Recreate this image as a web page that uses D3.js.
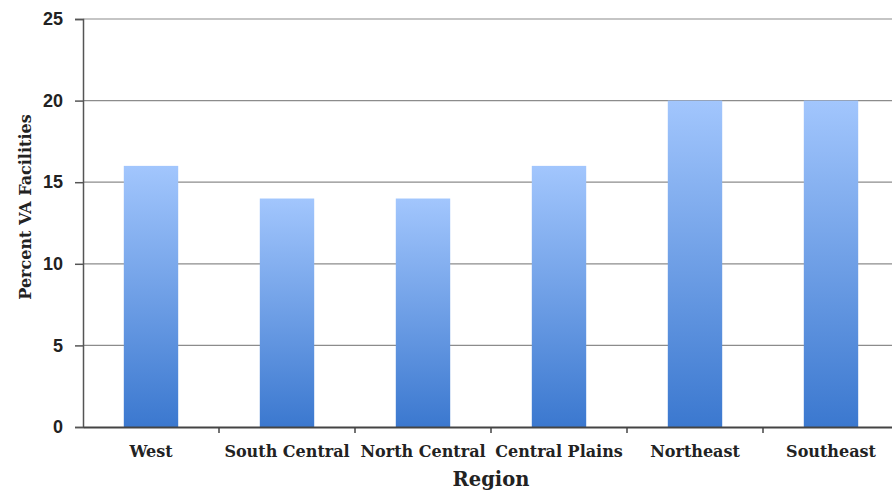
<!DOCTYPE html>
<html>
<head>
<meta charset="utf-8">
<script src="https://cdn.jsdelivr.net/npm/d3@7"></script>
<style>
  body { margin: 0; background: #fff; }
  svg { display: block; }
</style>
</head>
<body>
<div id="chart"></div>
<script>
// data
const regions = ["West", "South Central", "North Central", "Central Plains", "Northeast", "Southeast"];
const percents = [16, 14, 14, 16, 20, 20];
const yTicks = [0, 5, 10, 15, 20, 25];

const width = 892, height = 493;
const margin = { top: 19, right: -7, bottom: 66, left: 83 };

const svg = d3.select("#chart").append("svg")
  .attr("width", width)
  .attr("height", height);

// gradient for the bars, light on top, dark at the base
const grad = svg.append("defs").append("linearGradient")
  .attr("id", "barGrad")
  .attr("x1", 0).attr("y1", 0).attr("x2", 0).attr("y2", 1);
grad.append("stop").attr("offset", "0%").attr("stop-color", "#a2c6fd");
grad.append("stop").attr("offset", "100%").attr("stop-color", "#3b78cf");

const x = d3.scaleBand()
  .domain(regions)
  .range([margin.left, width - margin.right])
  .padding(0);

const y = d3.scaleLinear()
  .domain([0, 25])
  .range([height - margin.bottom, margin.top]);

// gridlines
svg.append("g")
  .selectAll("line")
  .data(yTicks.filter(d => d > 0))
  .join("line")
  .attr("x1", margin.left)
  .attr("x2", width)
  .attr("y1", d => y(d))
  .attr("y2", d => y(d))
  .attr("stroke", "#8c8c8c")
  .attr("stroke-width", 1.2);

// bars
const bw = x.bandwidth() * 0.4;
svg.append("g")
  .selectAll("rect")
  .data(regions.map((r, i) => ({ region: r, value: percents[i] })))
  .join("rect")
  .attr("x", d => x(d.region) + (x.bandwidth() - bw) / 2)
  .attr("y", d => y(d.value))
  .attr("width", bw)
  .attr("height", d => y(0) - y(d.value))
  .attr("fill", "url(#barGrad)");

// y axis
const yAxis = svg.append("g")
  .attr("transform", `translate(${margin.left},0)`)
  .call(d3.axisLeft(y).tickValues(yTicks).tickSize(8).tickPadding(12));
yAxis.select(".domain").attr("stroke", "#555").attr("stroke-width", 1.5);
yAxis.selectAll(".tick line").attr("stroke", "#555").attr("stroke-width", 1.5);
yAxis.selectAll("text")
  .attr("font-family", "Liberation Sans, Arial, sans-serif")
  .attr("font-weight", "bold")
  .attr("font-size", 18)
  .attr("fill", "#222");

// x axis
const xAxis = svg.append("g")
  .attr("transform", `translate(0,${y(0)})`)
  .call(d3.axisBottom(x).tickSize(0).tickPadding(19));
xAxis.select(".domain").attr("stroke", "#444").attr("stroke-width", 2);
xAxis.selectAll("text")
  .attr("font-family", "DejaVu Serif, serif")
  .attr("font-weight", "bold")
  .attr("font-size", 16)
  .attr("fill", "#222");

// tick marks between the categories
svg.append("g")
  .selectAll("line")
  .data(regions.slice(1))
  .join("line")
  .attr("x1", d => x(d))
  .attr("x2", d => x(d))
  .attr("y1", y(0))
  .attr("y2", y(0) + 6)
  .attr("stroke", "#444")
  .attr("stroke-width", 1.5);

// axis titles
svg.append("text")
  .attr("x", 491)
  .attr("y", 486)
  .attr("text-anchor", "middle")
  .attr("font-family", "DejaVu Serif, serif")
  .attr("font-weight", "bold")
  .attr("font-size", 19.5)
  .attr("fill", "#222")
  .text("Region");

svg.append("text")
  .attr("transform", "translate(31,207) rotate(-90)")
  .attr("text-anchor", "middle")
  .attr("font-family", "DejaVu Serif, serif")
  .attr("font-weight", "bold")
  .attr("font-size", 16)
  .attr("fill", "#222")
  .text("Percent VA Facilities");
</script>
</body>
</html>
